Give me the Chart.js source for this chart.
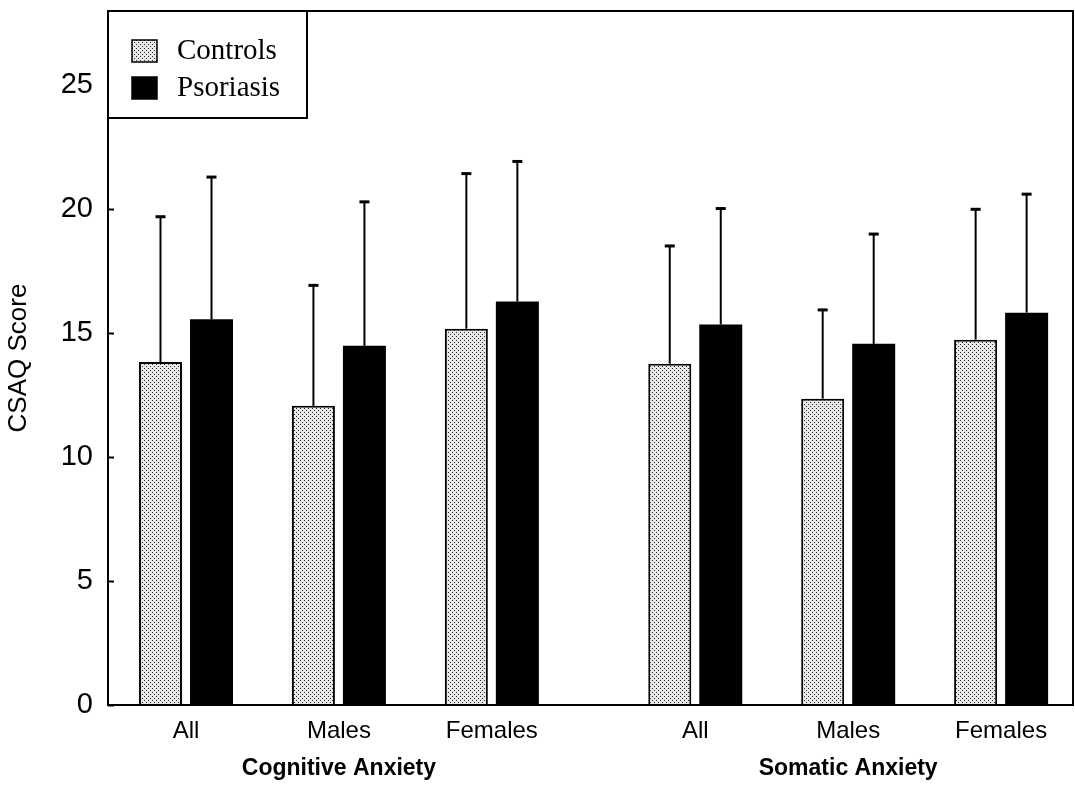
<!DOCTYPE html>
<html>
<head>
<meta charset="utf-8">
<script src="https://cdn.jsdelivr.net/npm/chart.js@4/dist/chart.umd.min.js"></script>
<style>
  html, body { margin: 0; padding: 0; background: #fff; }
  #wrap { width: 1075px; height: 785px; position: relative; }
</style>
</head>
<body>
<div id="wrap"><canvas id="c"></canvas></div>
<script>
// Anxiety scale groups and the sub-samples shown within each group
const groups = ['Cognitive Anxiety', 'Somatic Anxiety'];
const subgroups = ['All', 'Males', 'Females'];

// Mean CSAQ scores (Cognitive: All, Males, Females; Somatic: All, Males, Females)
const controlsMean  = [13.84, 12.07, 15.18, 13.77, 12.36, 14.74];
const psoriasisMean = [15.56, 14.49, 16.28, 15.35, 14.57, 15.83];

// Standard deviations, drawn as upward error bars
const controlsSD  = [5.86, 4.86, 6.26, 4.75, 3.58, 5.26];
const psoriasisSD = [5.74, 5.81, 5.65, 4.68, 4.43, 4.78];

const seriesNames = ['Controls', 'Psoriasis'];
const yTicks = [0, 5, 10, 15, 20, 25];

// Horizontal layout: sub-groups one unit apart, an extra gap between groups
const GROUP_GAP = 0.33;
const xOf = i => Math.floor(i / subgroups.length) * (subgroups.length + GROUP_GAP) + (i % subgroups.length);
const xPositions = controlsMean.map((_, i) => xOf(i));
const groupCenters = groups.map((_, g) => g * (subgroups.length + GROUP_GAP) + (subgroups.length - 1) / 2);

const canvas = document.getElementById('c');
const ctx = canvas.getContext('2d');

// Fine stipple fill for the control bars
function stipple() {
  const t = document.createElement('canvas');
  t.width = 4; t.height = 4;
  const g = t.getContext('2d');
  g.fillStyle = '#e8e8e8'; g.fillRect(0, 0, 4, 4);
  g.fillStyle = '#2a2a2a';
  g.fillRect(0, 0, 1, 1);
  g.fillRect(2, 2, 1, 1);
  return ctx.createPattern(t, 'repeat');
}
const controlsFill = stipple();

const SANS = '"Liberation Sans", Arial, Helvetica, sans-serif';
const SERIF = '"Liberation Serif", "Times New Roman", serif';

// Frame, inward y ticks, error bars and boxed legend
const decorations = {
  id: 'decorations',
  afterDatasetsDraw(chart) {
    const c = chart.ctx;
    const a = chart.chartArea;
    const y = chart.scales.y;
    c.save();
    c.strokeStyle = '#000';

    // error bars with a short cap
    const sds = [controlsSD, psoriasisSD];
    chart.data.datasets.forEach((ds, di) => {
      const meta = chart.getDatasetMeta(di);
      meta.data.forEach((bar, i) => {
        const top = y.getPixelForValue(ds.data[i].y + sds[di][i]);
        c.lineWidth = 2;
        c.beginPath();
        c.moveTo(bar.x, bar.y);
        c.lineTo(bar.x, top);
        c.stroke();
        c.lineWidth = 3;
        c.beginPath();
        c.moveTo(bar.x - 5, top);
        c.lineTo(bar.x + 5, top);
        c.stroke();
      });
    });

    // plot frame
    c.lineWidth = 2;
    c.strokeRect(a.left, a.top, a.right - a.left, a.bottom - a.top);

    // inward tick marks on the y axis
    yTicks.forEach(v => {
      const py = Math.round(y.getPixelForValue(v)) + 0.5;
      c.beginPath();
      c.moveTo(a.left, py);
      c.lineTo(a.left + 6, py);
      c.stroke();
    });

    // legend box in the upper-left corner
    const lx = a.left, ly = a.top, lw = 199, lh = 107;
    c.fillStyle = '#fff';
    c.fillRect(lx, ly, lw, lh);
    c.lineWidth = 2;
    c.strokeRect(lx, ly, lw, lh);
    const fills = [controlsFill, '#000'];
    const rowY = [ly + 29, ly + 66];
    c.font = '29px ' + SERIF;
    c.textBaseline = 'middle';
    c.textAlign = 'left';
    seriesNames.forEach((name, k) => {
      c.fillStyle = fills[k];
      c.fillRect(lx + 24, rowY[k], 25, 22);
      c.lineWidth = 1.5;
      c.strokeRect(lx + 24, rowY[k], 25, 22);
      c.fillStyle = '#000';
      c.fillText(name, lx + 69, rowY[k] + 11);
    });
    c.restore();
  }
};

const xMin = -0.51, xMax = 5.8;

new Chart(canvas, {
  type: 'bar',
  data: {
    datasets: [
      {
        label: seriesNames[0],
        data: controlsMean.map((v, i) => ({ x: xPositions[i], y: v })),
        backgroundColor: controlsFill,
        borderColor: '#000',
        borderWidth: 2,
        xAxisID: 'x'
      },
      {
        label: seriesNames[1],
        data: psoriasisMean.map((v, i) => ({ x: xPositions[i], y: v })),
        backgroundColor: '#000',
        borderColor: '#000',
        borderWidth: 0,
        xAxisID: 'x'
      }
    ]
  },
  options: {
    responsive: true,
    maintainAspectRatio: false,
    animation: false,
    events: [],
    categoryPercentage: 0.667,
    barPercentage: 0.843,
    layout: { padding: { top: 11, right: 2, bottom: 0, left: 0 } },
    plugins: {
      legend: { display: false },
      tooltip: { enabled: false }
    },
    scales: {
      x: {
        type: 'linear',
        position: 'bottom',
        weight: 0,
        min: xMin,
        max: xMax,
        offset: false,
        grid: { display: false, drawTicks: false },
        border: { display: false },
        afterBuildTicks: s => { s.ticks = xPositions.map(v => ({ value: v })); },
        afterFit: s => { s.height = 40; s.paddingLeft = 0; s.paddingRight = 0; },
        ticks: {
          autoSkip: false,
          maxRotation: 0,
          padding: 12,
          color: '#000',
          font: { family: SANS, size: 24 },
          callback: (v, i) => subgroups[i % subgroups.length]
        }
      },
      x2: {
        type: 'linear',
        position: 'bottom',
        weight: 1,
        min: xMin,
        max: xMax,
        offset: false,
        grid: { display: false, drawTicks: false },
        border: { display: false },
        afterBuildTicks: s => { s.ticks = groupCenters.map(v => ({ value: v })); },
        afterFit: s => { s.height = 40; s.paddingLeft = 0; s.paddingRight = 0; },
        ticks: {
          autoSkip: false,
          maxRotation: 0,
          padding: 10,
          color: '#000',
          font: { family: SANS, size: 23, weight: 'bold' },
          callback: (v, i) => groups[i]
        }
      },
      y: {
        min: 0,
        max: 28,
        grid: { display: false, drawTicks: false },
        border: { display: false },
        afterBuildTicks: s => { s.ticks = yTicks.map(v => ({ value: v })); },
        afterFit: s => { s.width = 108; s.paddingTop = 0; s.paddingBottom = 0; },
        ticks: {
          padding: 15,
          color: '#000',
          font: { family: SANS, size: 29 }
        },
        title: {
          display: true,
          text: 'CSAQ Score',
          color: '#000',
          font: { family: SANS, size: 26 },
          padding: { top: 3, bottom: 0 }
        }
      }
    }
  },
  plugins: [decorations]
});
</script>
</body>
</html>
